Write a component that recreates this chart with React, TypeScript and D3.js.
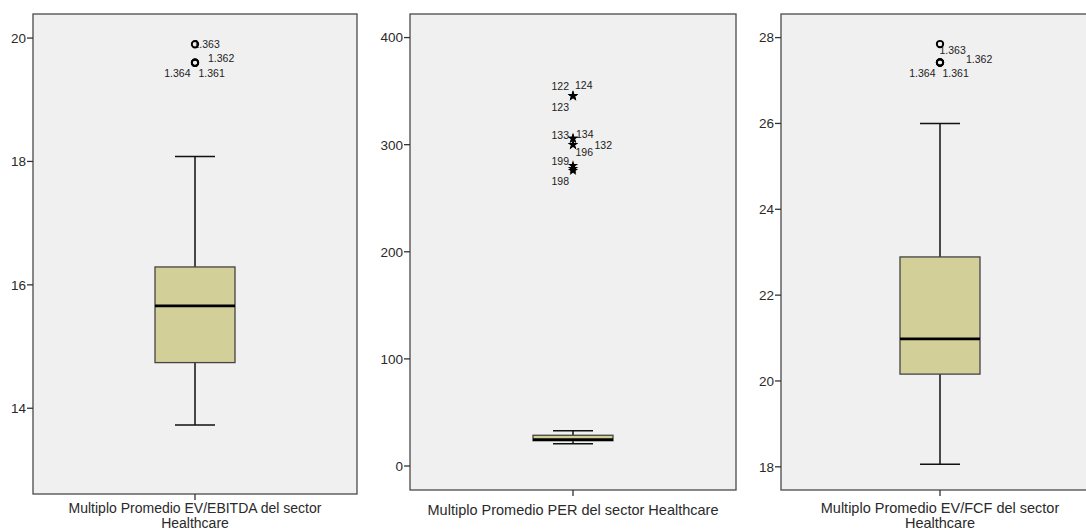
import React from 'react';
import * as d3 from 'd3';

// Three SPSS-style boxplots (Healthcare sector multiples)
const variableNames = ['EV/EBITDA', 'PER', 'EV/FCF'];
const axisLabels = [
  ['Multiplo Promedio EV/EBITDA del sector', 'Healthcare'],
  ['Multiplo Promedio PER del sector Healthcare'],
  ['Multiplo Promedio EV/FCF del sector', 'Healthcare'],
];
const whiskerLow = [13.73, 20.8, 18.06];
const quartile1 = [14.74, 23.6, 20.16];
const medians = [15.66, 24.6, 20.98];
const quartile3 = [16.29, 28.7, 22.89];
const whiskerHigh = [18.08, 33, 26.0];
const yDomains = [[12.61, 20.39], [-22.4, 422], [17.46, 28.55]];
const yTicks = [[14, 16, 18, 20], [0, 100, 200, 300, 400], [18, 20, 22, 24, 26, 28]];

// outliers: value + case label
const outlierValues = [
  [19.9, 19.6, 19.6, 19.6],
  [345.5, 345.5, 345.5, 305.8, 305.8, 300, 300, 280.4, 277.5, 275.8],
  [27.85, 27.42, 27.42, 27.42],
];
const outlierCases = [
  ['1.363', '1.362', '1.364', '1.361'],
  ['122', '124', '123', '133', '134', '132', '196', '199', '', '198'],
  ['1.363', '1.362', '1.364', '1.361'],
];
// extreme (star) or outlier (circle)
const outlierKinds = ['circle', 'star', 'circle'];

// layout of each panel
const frames = [
  { left: 33, right: 357, top: 14, bottom: 494, labelGap: 13.5, lineGap: 15.6, labelSize: 14 },
  { left: 410, right: 736, top: 14, bottom: 490, labelGap: 20, lineGap: 15, labelSize: 14.5 },
  { left: 781, right: 1099, top: 14, bottom: 490, labelGap: 18, lineGap: 15, labelSize: 14.5 },
];
// label offsets relative to the point (dx, dy, anchor)
const labelOffsets: [number, number, string][][] = [
  [[-1.5, 0, 'start'], [13, -4.5, 'start'], [-4.5, 10.5, 'end'], [3.5, 10.5, 'start']],
  [[-4, -10, 'end'], [2, -11, 'start'], [-4, 11.5, 'end'], [-4, -3, 'end'], [3, -4, 'start'],
   [21.5, 1, 'start'], [2.5, 8, 'start'], [-4, -4, 'end'], [0, 0, 'start'], [-4, 11, 'end']],
  [[-0.5, 6.5, 'start'], [26, -3.5, 'start'], [-4.5, 10.5, 'end'], [2.5, 10.5, 'start']],
];

const FONT = '"Liberation Sans", Arial, sans-serif';
const BOX_FILL = '#d3cf98';
const PLOT_BG = '#f0f0f0';

const Panel = ({ i }: { i: number }) => {
  const f = frames[i];
  const x = d3.scaleBand<string>().domain([variableNames[i]]).range([f.left, f.right]);
  const y = d3.scaleLinear().domain(yDomains[i]).range([f.bottom, f.top]);
  const cx = (x(variableNames[i]) ?? 0) + x.bandwidth() / 2;
  const boxW = 80;
  const capW = 40;
  const star = d3.symbol().type(d3.symbolStar).size(34)();

  return (
    <g>
      <rect x={f.left} y={f.top} width={f.right - f.left} height={f.bottom - f.top}
        fill={PLOT_BG} stroke="#4a4a4a" strokeWidth={1.3} />
      {yTicks[i].map(t => (
        <g key={t} transform={`translate(${f.left},${y(t)})`}>
          <line x1={-6} x2={0} stroke="#333" strokeWidth={1.3} />
          <text x={-7} dy="0.36em" textAnchor="end" fontSize={13.5} fill="#2a2a2a" fontFamily={FONT}>{t}</text>
        </g>
      ))}
      <line x1={cx} x2={cx} y1={f.bottom} y2={f.bottom + 6} stroke="#333" strokeWidth={1.3} />
      {axisLabels[i].map((s, k) => (
        <text key={k} x={cx} y={f.bottom + f.labelGap + k * f.lineGap} dy="0.36em" textAnchor="middle"
          fontSize={f.labelSize} fill="#2a2a2a" fontFamily={FONT}>{s}</text>
      ))}
      {/* whiskers */}
      <line x1={cx} x2={cx} y1={y(whiskerHigh[i])} y2={y(quartile3[i])} stroke="#111" strokeWidth={1.5} />
      <line x1={cx} x2={cx} y1={y(quartile1[i])} y2={y(whiskerLow[i])} stroke="#111" strokeWidth={1.5} />
      <line x1={cx - capW / 2} x2={cx + capW / 2} y1={y(whiskerHigh[i])} y2={y(whiskerHigh[i])} stroke="#111" strokeWidth={1.5} />
      <line x1={cx - capW / 2} x2={cx + capW / 2} y1={y(whiskerLow[i])} y2={y(whiskerLow[i])} stroke="#111" strokeWidth={1.5} />
      {/* box */}
      <rect x={cx - boxW / 2} y={y(quartile3[i])} width={boxW} height={y(quartile1[i]) - y(quartile3[i])}
        fill={BOX_FILL} stroke="#444" strokeWidth={1.3} />
      <line x1={cx - boxW / 2} x2={cx + boxW / 2} y1={y(medians[i])} y2={y(medians[i])} stroke="#000" strokeWidth={2.6} />
      {/* outlier labels then markers */}
      {outlierValues[i].map((v, k) => {
        const [dx, dy, anchor] = labelOffsets[i][k];
        return outlierCases[i][k] ? (
          <text key={'l' + k} x={cx + dx} y={y(v) + dy} dy="0.36em" textAnchor={anchor}
            fontSize={10.5} fill="#222" fontFamily={FONT}>{outlierCases[i][k]}</text>
        ) : null;
      })}
      {outlierValues[i].map((v, k) =>
        outlierKinds[i] === 'circle' ? (
          <circle key={'m' + k} cx={cx} cy={y(v)} r={3.2} fill="none" stroke="#000" strokeWidth={1.9} />
        ) : (
          <path key={'m' + k} d={star ?? ''} transform={`translate(${cx},${y(v)})`} fill="#000" />
        )
      )}
    </g>
  );
};

const App = () => (
  <div style={{ position: 'fixed', left: 0, top: 0, width: 1086, height: 531, overflow: 'hidden', background: '#fff' }}>
    <svg width={1086} height={531} style={{ display: 'block' }}>
      {variableNames.map((_, i) => <Panel key={i} i={i} />)}
    </svg>
  </div>
);

export default App;
